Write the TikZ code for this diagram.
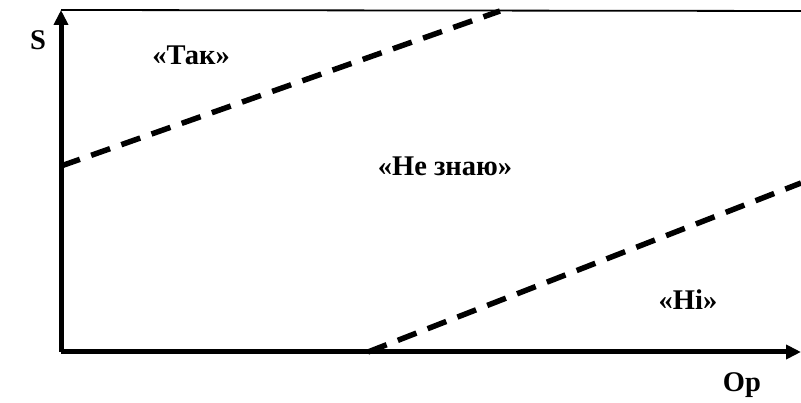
\documentclass[tikz,border=0pt]{standalone}
\usepackage{fontspec}
\setmainfont{Liberation Serif}
\usetikzlibrary{arrows.meta}

\begin{document}
\begin{tikzpicture}[
    x=1pt, y=1pt,
    axis/.style={line width=5pt, -{Triangle[length=15pt,width=14pt]}},
    edge/.style={line width=1.8pt},
    bound/.style={line width=5.5pt, dash pattern=on 20pt off 12pt},
    zone/.style={font=\fontsize{28.5}{32}\selectfont\bfseries}
]
\useasboundingbox (0,0) rectangle (801,403);
\coordinate (o) at (61,51);
\coordinate (ytip) at (61,393);
\coordinate (xtip) at (801,51);
\coordinate (tr) at (801,392);
\coordinate (up1) at (61,237);
\coordinate (up2) at (500,392);
\coordinate (lo1) at (368,51);
\coordinate (lo2) at (801,220);
\draw[edge] (ytip) -- (tr);
\draw[axis] (o) -- (ytip);
\draw[axis] (o) -- (xtip);
\draw[bound] (up1) -- (up2);
\draw[bound] (lo1) -- (lo2);
\node[zone] (s) at (38,363) {S};
\node[zone] (op) at (742,18) {Op};
\node[zone] (yes) at (191,348) {«Так»};
\node[zone] (dunno) at (445,237) {«Не знаю»};
\node[zone] (no) at (688,103) {«Ні»};
\end{tikzpicture}
\end{document}
